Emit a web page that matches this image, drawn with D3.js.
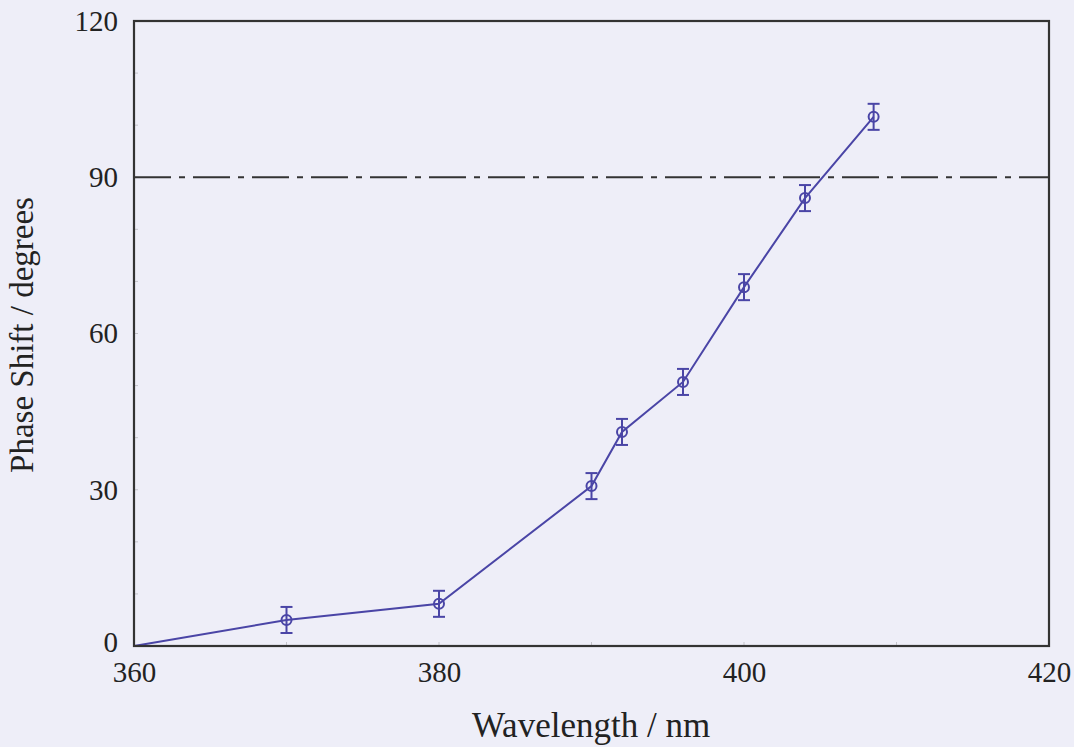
<!DOCTYPE html>
<html>
<head>
<meta charset="utf-8">
<script src="https://cdn.jsdelivr.net/npm/d3@7"></script>
<style>
  html, body { margin: 0; padding: 0; background: #eeeef8; }
  svg { display: block; }
  text { font-family: "Liberation Serif", "Times New Roman", serif; fill: #222; }
</style>
</head>
<body>
<svg id="chart" width="1074" height="747"></svg>
<script>
// Data
const wavelengths = [360, 370, 380, 390, 392, 396, 400, 404, 408.5];
const phaseShift  = [0, 5.0, 8.1, 30.7, 41.1, 50.7, 68.9, 86.0, 101.6];
const errors      = [0, 2.5, 2.5, 2.5, 2.5, 2.5, 2.5, 2.5, 2.5];
const xTicks = [360, 380, 400, 420];
const yTicks = [0, 30, 60, 90, 120];
const refLevel = 90;

const W = 1074, H = 747;
const m = { left: 134, right: 1049, top: 21, bottom: 646 };
const svg = d3.select("#chart");

svg.append("rect").attr("width", W).attr("height", H).attr("fill", "#eeeef8");

const x = d3.scaleLinear().domain([360, 420]).range([m.left, m.right]);
const y = d3.scaleLinear().domain([0, 120]).range([m.bottom, m.top]);

// Faint inward minor ticks
const tickCol = "#666";
const xMinor = d3.range(360, 421, 10);
const yMinor = d3.range(0, 121, 10);
const gt = svg.append("g").attr("stroke", tickCol).attr("stroke-width", 1).attr("opacity", 0.3);
xMinor.forEach(v => {
  gt.append("line").attr("x1", x(v)).attr("x2", x(v)).attr("y1", m.bottom).attr("y2", m.bottom - 4);
});
yMinor.forEach(v => {
  gt.append("line").attr("x1", m.left).attr("x2", m.left + 4).attr("y1", y(v)).attr("y2", y(v));
});

// Axes (labels via d3 axes)
const xAxis = d3.axisBottom(x).tickValues(xTicks).tickSize(0).tickPadding(15).tickFormat(d3.format("d"));
const gx = svg.append("g").attr("transform", `translate(0,${m.bottom})`).call(xAxis);
gx.attr("font-family", null).attr("font-size", null);
gx.select(".domain").remove();
gx.selectAll("text").attr("font-size", 29).attr("fill", "#222");

const yAxis = d3.axisLeft(y).tickValues(yTicks).tickSize(0).tickPadding(16).tickFormat(d3.format("d"));
const gy = svg.append("g").attr("transform", `translate(${m.left},0)`).call(yAxis);
gy.attr("font-family", null).attr("font-size", null);
gy.select(".domain").remove();
gy.selectAll("text").attr("font-size", 29).attr("fill", "#222");
gy.selectAll(".tick").filter(d => d === 0).select("text").attr("dy", "0.2em");

// Reference dash-dot line at 90
svg.append("line")
  .attr("x1", m.left).attr("x2", m.right)
  .attr("y1", y(refLevel)).attr("y2", y(refLevel))
  .attr("stroke", "#333").attr("stroke-width", 2)
  .attr("stroke-dasharray", "37,8,6,8");

// Data line
const lineCol = "#4a45a6";
svg.append("path")
  .datum(wavelengths.map((w, i) => [w, phaseShift[i]]))
  .attr("fill", "none").attr("stroke", lineCol).attr("stroke-width", 2)
  .attr("d", d3.line().x(d => x(d[0])).y(d => y(d[1])));

// Error bars and markers
const ge = svg.append("g").attr("stroke", lineCol).attr("stroke-width", 2).attr("fill", "none");
wavelengths.forEach((w, i) => {
  if (errors[i] <= 0) return;
  const cx = x(w), y0 = y(phaseShift[i] - errors[i]), y1 = y(phaseShift[i] + errors[i]);
  ge.append("line").attr("x1", cx).attr("x2", cx).attr("y1", y0).attr("y2", y1);
  ge.append("line").attr("x1", cx - 6).attr("x2", cx + 6).attr("y1", y0).attr("y2", y0);
  ge.append("line").attr("x1", cx - 6).attr("x2", cx + 6).attr("y1", y1).attr("y2", y1);
  ge.append("circle").attr("cx", cx).attr("cy", y(phaseShift[i])).attr("r", 5);
});

// Frame
svg.append("rect")
  .attr("x", m.left).attr("y", m.top)
  .attr("width", m.right - m.left).attr("height", m.bottom - m.top)
  .attr("fill", "none").attr("stroke", "#333").attr("stroke-width", 2.2);

// Axis titles
svg.append("text")
  .attr("x", 591).attr("y", 737)
  .attr("text-anchor", "middle").attr("font-size", 35)
  .text("Wavelength / nm");

svg.append("text")
  .attr("transform", `translate(33,335) rotate(-90)`)
  .attr("text-anchor", "middle").attr("font-size", 33)
  .text("Phase Shift / degrees");
</script>
</body>
</html>
